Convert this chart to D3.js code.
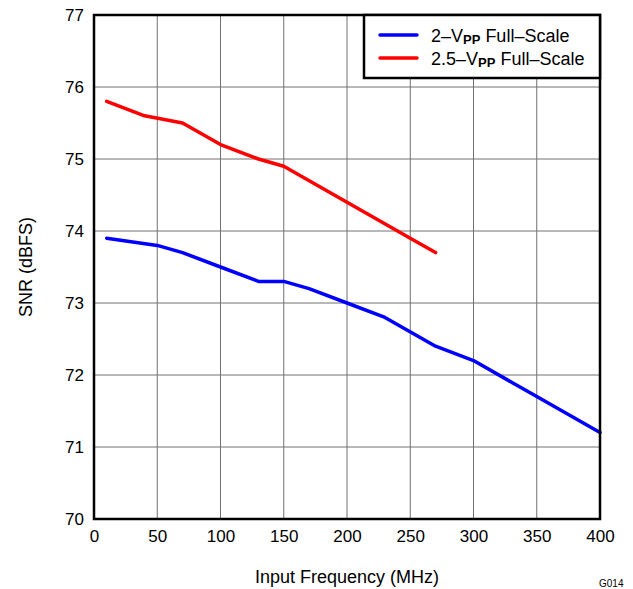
<!DOCTYPE html>
<html><head><meta charset="utf-8">
<script src="https://cdn.jsdelivr.net/npm/d3@7"></script>
<style>body{margin:0;background:#fff}svg{display:block}text{font-family:"Liberation Sans",Arial,sans-serif}</style>
</head><body><svg id="c" width="633" height="589"></svg>
<script>
const xTicks = [0,50,100,150,200,250,300,350,400];
const yTicks = [70,71,72,73,74,75,76,77];
const freq2 = [10,50,70,100,130,150,170,200,230,270,300,350,400];
const snr2 = [73.9,73.8,73.7,73.5,73.3,73.3,73.2,73.0,72.8,72.4,72.2,71.7,71.2];
const freq25 = [10,40,70,100,130,150,200,250,270];
const snr25 = [75.8,75.6,75.5,75.2,75.0,74.9,74.4,73.9,73.7];
const seriesNames = ["2–V", "2.5–V"];
const seriesColors = ["#0000ff","#ff0000"];

const svg = d3.select("#c");
const L=94, R=600, T=15, B=519;
const x = d3.scaleLinear().domain([0,400]).range([L,R]);
const y = d3.scaleLinear().domain([70,77]).range([B,T]);
const FF = "Liberation Sans, Arial, sans-serif";

// grid
svg.append("g").selectAll("line").data(xTicks.slice(1,-1)).join("line")
  .attr("x1",d=>x(d)).attr("x2",d=>x(d)).attr("y1",T).attr("y2",B)
  .attr("stroke","#707070").attr("stroke-width",1);
svg.append("g").selectAll("line").data(yTicks.slice(1,-1)).join("line")
  .attr("y1",d=>y(d)).attr("y2",d=>y(d)).attr("x1",L).attr("x2",R)
  .attr("stroke","#707070").attr("stroke-width",1);

// axes labels
const xa = d3.axisBottom(x).tickValues(xTicks).tickFormat(d3.format("d")).tickSize(0).tickPadding(11);
const gx = svg.append("g").attr("transform",`translate(0,${B})`).call(xa);
gx.select(".domain").remove();
gx.selectAll("text").attr("font-size",17).attr("fill","#000").attr("font-family",FF);
const ya = d3.axisLeft(y).tickValues(yTicks).tickFormat(d3.format("d")).tickSize(0).tickPadding(10);
const gy = svg.append("g").attr("transform",`translate(${L},0)`).call(ya);
gy.select(".domain").remove();
gy.selectAll("text").attr("font-size",17).attr("fill","#000").attr("font-family",FF);

// lines
const line = d3.line().x(d=>x(d[0])).y(d=>y(d[1]));
const data = [d3.zip(freq2,snr2), d3.zip(freq25,snr25)];
data.forEach((d,i)=>{
  svg.append("path").datum(d).attr("d",line).attr("fill","none")
    .attr("stroke",seriesColors[i]).attr("stroke-width",3.5)
    .attr("stroke-linejoin","round").attr("stroke-linecap","round");
});

// frame
svg.append("rect").attr("x",L).attr("y",T).attr("width",R-L).attr("height",B-T)
  .attr("fill","none").attr("stroke","#000").attr("stroke-width",2.5);

// legend
const lg = svg.append("g");
lg.append("rect").attr("x",364).attr("y",T).attr("width",R-364).attr("height",63)
  .attr("fill","#fff").attr("stroke","#000").attr("stroke-width",2.5);
seriesNames.forEach((n,i)=>{
  const yy = 35 + i*23;
  lg.append("line").attr("x1",380).attr("x2",417).attr("y1",yy).attr("y2",yy)
    .attr("stroke",seriesColors[i]).attr("stroke-width",3.5).attr("stroke-linecap","round");
  const t = lg.append("text").attr("x",431).attr("y",yy+7).attr("font-size",18);
  t.append("tspan").text(n);
  t.append("tspan").text("PP").attr("font-weight","bold").attr("font-size",13).attr("dy",2);
  t.append("tspan").text(" Full–Scale").attr("dy",-2);
});

// titles
svg.append("text").attr("x",347).attr("y",583).attr("text-anchor","middle")
  .attr("font-size",18).text("Input Frequency (MHz)");
svg.append("text").attr("transform","translate(32,267) rotate(-90)").attr("text-anchor","middle")
  .attr("font-size",18).text("SNR (dBFS)");
svg.append("text").attr("x",599).attr("y",587).attr("font-size",10).text("G014");
</script></body></html>
